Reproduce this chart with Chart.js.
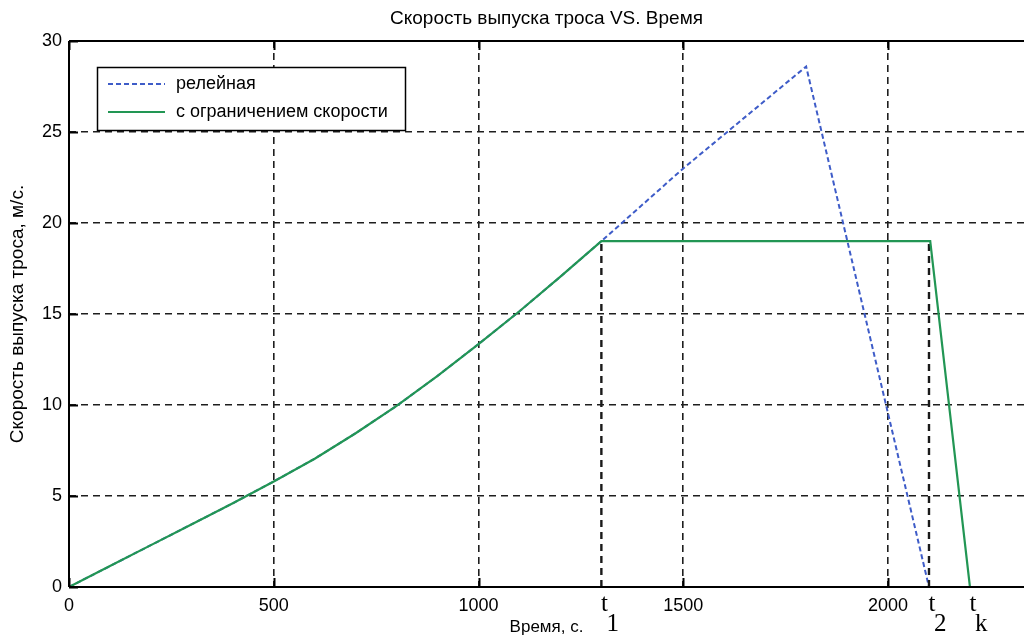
<!DOCTYPE html>
<html>
<head>
<meta charset="utf-8">
<script src="https://cdn.jsdelivr.net/npm/chart.js@4/dist/chart.umd.min.js"></script>
<style>
  html, body { margin: 0; padding: 0; background: #fff; overflow: hidden; }
  #wrap { width: 1024px; height: 636px; position: relative; }
</style>
</head>
<body>
<div id="wrap"><canvas id="c" width="1024" height="636"></canvas></div>
<script>
// ---------- data ----------
const chartTitle = 'Скорость выпуска троса VS. Время';
const xTitle = 'Время, с.';
const yTitle = 'Скорость выпуска троса, м/с.';
const seriesNames = ['релейная', 'с ограничением скорости'];

// common acceleration part (both laws coincide here)
const rampTime  = [0, 100, 200, 300, 400, 500, 600, 700, 800, 900, 1000, 1100, 1200, 1300];
const rampSpeed = [0, 1.15, 2.3, 3.45, 4.6, 5.8, 7.05, 8.45, 9.95, 11.6, 13.35, 15.15, 17.05, 19.0];

// relay law continuation
const relayTime  = [1500, 1800, 2100];
const relaySpeed = [23.0, 28.6, 0];

// speed-limited law continuation
const limitTime  = [2103, 2200];
const limitSpeed = [19.0, 0];

// vertical marker lines (t1, t2) from 0 up to limit level
const markTime  = [1300, 2100];
const markLevel = 19.0;

// t annotations
const tNames = ['1', '2', 'k'];
const tTimes = [1300, 2100, 2200];

// axes
const xTicks = [0, 500, 1000, 1500, 2000];
const yTicks = [0, 5, 10, 15, 20, 25, 30];
const xMax = 2332;
const yMax = 30;

// ---------- build datasets ----------
function pts(xs, ys) { return xs.map((x, i) => ({ x: x, y: ys[i] })); }
const relayData = pts(rampTime.concat(relayTime), rampSpeed.concat(relaySpeed));
const limitData = pts(rampTime.concat(limitTime), rampSpeed.concat(limitSpeed));

const BLUE = 'rgb(62,92,200)';
const GREEN = 'rgb(34,150,84)';
const FONT = "'Liberation Sans', Arial, sans-serif";

const datasets = [
  { label: seriesNames[0], data: relayData, borderColor: BLUE, borderWidth: 2,
    borderDash: [5, 3], order: 3 },
  { label: seriesNames[1], data: limitData, borderColor: GREEN, borderWidth: 2.2, order: 1 }
];
markTime.forEach((t) => {
  datasets.push({ label: '_mark', data: pts([t, t], [0, markLevel]), borderColor: '#1a1a1a',
    borderWidth: 2.4, borderDash: [7, 5], order: 2 });
});
datasets.forEach(d => { d.showLine = true; d.pointRadius = 0; d.fill = false; d.tension = 0; });

// ---------- plugin: frame, inward ticks, legend, t labels ----------
const decor = {
  id: 'decor',
  afterDatasetsDraw(chart) {
    const { ctx, chartArea: a, scales: { x, y } } = chart;
    ctx.save();
    // frame (left, bottom, top)
    ctx.strokeStyle = '#000';
    ctx.lineWidth = 2;
    ctx.setLineDash([]);
    ctx.beginPath();
    ctx.moveTo(a.left, a.top); ctx.lineTo(a.right, a.top);
    ctx.moveTo(a.left, a.top); ctx.lineTo(a.left, a.bottom);
    ctx.moveTo(a.left, a.bottom); ctx.lineTo(a.right, a.bottom);
    ctx.stroke();
    // inward ticks
    ctx.lineWidth = 2;
    ctx.beginPath();
    const tl = 9;
    xTicks.forEach(v => {
      const px = Math.round(x.getPixelForValue(v)) + 0.5;
      ctx.moveTo(px, a.bottom); ctx.lineTo(px, a.bottom - tl);
      ctx.moveTo(px, a.top); ctx.lineTo(px, a.top + tl);
    });
    yTicks.forEach(v => {
      const py = Math.round(y.getPixelForValue(v)) + 0.5;
      ctx.moveTo(a.left, py); ctx.lineTo(a.left + tl, py);
    });
    ctx.stroke();

    // legend box
    const bx = a.left + 28, by = a.top + 26, bw = 308, bh = 63;
    ctx.fillStyle = '#fff';
    ctx.fillRect(bx, by, bw, bh);
    ctx.strokeStyle = '#000';
    ctx.lineWidth = 1.5;
    ctx.strokeRect(bx + 0.5, by + 0.5, bw, bh);
    const rows = [by + 17, by + 45];
    [0, 1].forEach((i) => {
      const ds = chart.data.datasets[i];
      ctx.strokeStyle = ds.borderColor;
      ctx.lineWidth = ds.borderWidth;
      ctx.setLineDash(ds.borderDash || []);
      ctx.beginPath();
      ctx.moveTo(bx + 11, rows[i]); ctx.lineTo(bx + 68, rows[i]);
      ctx.stroke();
      ctx.setLineDash([]);
      ctx.fillStyle = '#000';
      ctx.font = '18px ' + FONT;
      ctx.textAlign = 'left';
      ctx.textBaseline = 'middle';
      ctx.fillText(ds.label, bx + 79, rows[i]);
    });

    // t annotations under the axis
    ctx.fillStyle = '#000';
    ctx.textBaseline = 'alphabetic';
    tTimes.forEach((t, i) => {
      const px = x.getPixelForValue(t);
      ctx.font = "25px 'Liberation Serif', 'Times New Roman', serif";
      ctx.textAlign = 'center';
      ctx.fillText('t', px + 3, a.bottom + 24);
      ctx.textAlign = 'left';
      ctx.fillText(tNames[i], px + 5, a.bottom + 44);
    });
    ctx.restore();
  }
};

new Chart(document.getElementById('c'), {
  type: 'scatter',
  data: { datasets: datasets },
  plugins: [decor],
  options: {
    responsive: false,
    animation: false,
    layout: { padding: 0 },
    plugins: {
      legend: { display: false },
      tooltip: { enabled: false },
      title: {
        display: true, text: chartTitle, color: '#000', fullSize: false,
        font: { family: FONT, size: 19, weight: 'normal' },
        padding: { top: 7, bottom: 11.2 }
      }
    },
    scales: {
      x: {
        type: 'linear', min: 0, max: xMax,
        afterBuildTicks: (s) => { s.ticks = xTicks.map(v => ({ value: v })); },
        afterFit: (s) => { s.height = 49; },
        ticks: { color: '#000', font: { family: FONT, size: 18 }, padding: 8, maxRotation: 0,
          callback: (v) => String(v) },
        grid: { color: '#1e1e1e', lineWidth: 1.6, drawTicks: false },
        border: { display: false, dash: [7, 5] },
        title: { display: true, text: xTitle, color: '#000',
          font: { family: FONT, size: 17 }, padding: { top: 0, bottom: -2 } }
      },
      y: {
        type: 'linear', min: 0, max: yMax,
        afterBuildTicks: (s) => { s.ticks = yTicks.map(v => ({ value: v })); },
        afterFit: (s) => { s.width = 69; },
        ticks: { color: '#000', font: { family: FONT, size: 18 }, padding: 7,
          callback: (v) => String(v) },
        grid: { color: '#1e1e1e', lineWidth: 1.6, drawTicks: false },
        border: { display: false, dash: [7, 5] },
        title: { display: true, text: yTitle, color: '#000',
          font: { family: FONT, size: 19 }, padding: { top: 6, bottom: 0 } }
      }
    }
  }
});
</script>
</body>
</html>
